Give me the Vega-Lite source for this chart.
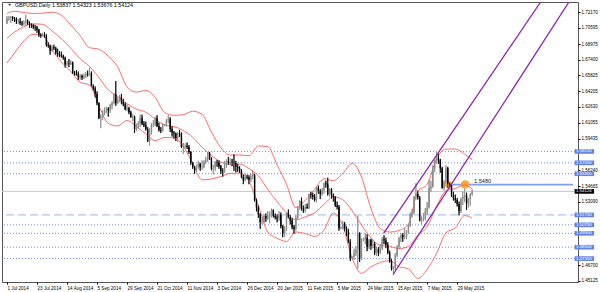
{
"$schema":"https://vega.github.io/schema/vega-lite/v6.json",
"width":576,"height":280,
"autosize":{"type":"none"},
"padding":{"left":2,"top":2,"right":22,"bottom":10},
"background":"white",
"config":{"view":{"stroke":"#555","strokeWidth":1},"axis":{"labelFont":"Liberation Sans","grid":false,"domain":false,"labelOverlap":false},"text":{"font":"Liberation Sans"}},
"resolve":{"axis":{"x":"independent","y":"independent"}},
"datasets":{
"bars":[
{"i":0,"o":1.7105,"h":1.718,"l":1.71,"c":1.7155},{"i":1,"o":1.7155,"h":1.718,"l":1.713,"c":1.716},{"i":2,"o":1.716,"h":1.718,"l":1.711,"c":1.717},{"i":3,"o":1.717,"h":1.7178,"l":1.713,"c":1.7155},{"i":4,"o":1.7155,"h":1.717,"l":1.712,"c":1.715},{"i":5,"o":1.715,"h":1.7165,"l":1.71,"c":1.7125},{"i":6,"o":1.7125,"h":1.715,"l":1.71,"c":1.7125},{"i":7,"o":1.7125,"h":1.716,"l":1.709,"c":1.711},{"i":8,"o":1.711,"h":1.713,"l":1.708,"c":1.7105},{"i":9,"o":1.7105,"h":1.7135,"l":1.7085,"c":1.711},
{"i":10,"o":1.711,"h":1.7192,"l":1.708,"c":1.713},{"i":11,"o":1.713,"h":1.7145,"l":1.709,"c":1.711},{"i":12,"o":1.711,"h":1.7125,"l":1.706,"c":1.709},{"i":13,"o":1.709,"h":1.7105,"l":1.706,"c":1.7085},{"i":14,"o":1.7085,"h":1.71,"l":1.705,"c":1.707},{"i":15,"o":1.707,"h":1.709,"l":1.703,"c":1.7065},{"i":16,"o":1.7065,"h":1.708,"l":1.701,"c":1.704},{"i":17,"o":1.704,"h":1.705,"l":1.697,"c":1.699},{"i":18,"o":1.699,"h":1.7005,"l":1.696,"c":1.698},{"i":19,"o":1.698,"h":1.701,"l":1.697,"c":1.6995},
{"i":20,"o":1.6995,"h":1.7015,"l":1.696,"c":1.6985},{"i":21,"o":1.6985,"h":1.6995,"l":1.687,"c":1.689},{"i":22,"o":1.689,"h":1.6915,"l":1.686,"c":1.688},{"i":23,"o":1.688,"h":1.689,"l":1.679,"c":1.683},{"i":24,"o":1.683,"h":1.6885,"l":1.682,"c":1.6865},{"i":25,"o":1.6865,"h":1.689,"l":1.6835,"c":1.6855},{"i":26,"o":1.6855,"h":1.687,"l":1.679,"c":1.681},{"i":27,"o":1.681,"h":1.685,"l":1.677,"c":1.6795},{"i":28,"o":1.6795,"h":1.6825,"l":1.6765,"c":1.6785},{"i":29,"o":1.6785,"h":1.682,"l":1.676,"c":1.6775},
{"i":30,"o":1.6775,"h":1.679,"l":1.674,"c":1.676},{"i":31,"o":1.676,"h":1.677,"l":1.666,"c":1.669},{"i":32,"o":1.669,"h":1.6725,"l":1.668,"c":1.67},{"i":33,"o":1.67,"h":1.6745,"l":1.6665,"c":1.6695},{"i":34,"o":1.6695,"h":1.6735,"l":1.6685,"c":1.6715},{"i":35,"o":1.6715,"h":1.672,"l":1.6595,"c":1.6605},{"i":36,"o":1.6605,"h":1.6625,"l":1.658,"c":1.66},{"i":37,"o":1.66,"h":1.6635,"l":1.658,"c":1.659},{"i":38,"o":1.659,"h":1.662,"l":1.6535,"c":1.6565},{"i":39,"o":1.6565,"h":1.6595,"l":1.654,"c":1.6575},
{"i":40,"o":1.6575,"h":1.659,"l":1.6535,"c":1.656},{"i":41,"o":1.656,"h":1.66,"l":1.6545,"c":1.658},{"i":42,"o":1.658,"h":1.6615,"l":1.6555,"c":1.6595},{"i":43,"o":1.6595,"h":1.663,"l":1.657,"c":1.659},{"i":44,"o":1.659,"h":1.666,"l":1.658,"c":1.66},{"i":45,"o":1.66,"h":1.662,"l":1.647,"c":1.6475},{"i":46,"o":1.6475,"h":1.649,"l":1.643,"c":1.645},{"i":47,"o":1.645,"h":1.647,"l":1.636,"c":1.6395},{"i":48,"o":1.6395,"h":1.642,"l":1.628,"c":1.63},{"i":49,"o":1.63,"h":1.631,"l":1.614,"c":1.6155},
{"i":50,"o":1.6155,"h":1.619,"l":1.605,"c":1.617},{"i":51,"o":1.617,"h":1.623,"l":1.613,"c":1.62},{"i":52,"o":1.62,"h":1.626,"l":1.618,"c":1.6235},{"i":53,"o":1.6235,"h":1.6265,"l":1.62,"c":1.6245},{"i":54,"o":1.6245,"h":1.626,"l":1.6165,"c":1.623},{"i":55,"o":1.623,"h":1.6295,"l":1.6205,"c":1.628},{"i":56,"o":1.628,"h":1.632,"l":1.624,"c":1.63},{"i":57,"o":1.63,"h":1.64,"l":1.629,"c":1.639},{"i":58,"o":1.639,"h":1.6525,"l":1.6275,"c":1.63},{"i":59,"o":1.63,"h":1.636,"l":1.629,"c":1.634},
{"i":60,"o":1.634,"h":1.6385,"l":1.631,"c":1.6365},{"i":61,"o":1.6365,"h":1.6395,"l":1.629,"c":1.6315},{"i":62,"o":1.6315,"h":1.6345,"l":1.627,"c":1.629},{"i":63,"o":1.629,"h":1.631,"l":1.623,"c":1.624},{"i":64,"o":1.624,"h":1.629,"l":1.622,"c":1.625},{"i":65,"o":1.625,"h":1.6265,"l":1.619,"c":1.621},{"i":66,"o":1.621,"h":1.6225,"l":1.6155,"c":1.616},{"i":67,"o":1.616,"h":1.619,"l":1.612,"c":1.6165},{"i":68,"o":1.6165,"h":1.6175,"l":1.6,"c":1.604},{"i":69,"o":1.604,"h":1.6095,"l":1.602,"c":1.608},
{"i":70,"o":1.608,"h":1.612,"l":1.6045,"c":1.61},{"i":71,"o":1.61,"h":1.6185,"l":1.606,"c":1.615},{"i":72,"o":1.615,"h":1.6185,"l":1.608,"c":1.6095},{"i":73,"o":1.6095,"h":1.612,"l":1.606,"c":1.608},{"i":74,"o":1.608,"h":1.6115,"l":1.6025,"c":1.604},{"i":75,"o":1.604,"h":1.606,"l":1.591,"c":1.592},{"i":76,"o":1.592,"h":1.605,"l":1.5875,"c":1.6005},{"i":77,"o":1.6005,"h":1.61,"l":1.5985,"c":1.608},{"i":78,"o":1.608,"h":1.613,"l":1.606,"c":1.6085},{"i":79,"o":1.6085,"h":1.6165,"l":1.607,"c":1.615},
{"i":80,"o":1.615,"h":1.618,"l":1.606,"c":1.607},{"i":81,"o":1.607,"h":1.6105,"l":1.6015,"c":1.603},{"i":82,"o":1.603,"h":1.606,"l":1.6,"c":1.6025},{"i":83,"o":1.6025,"h":1.6095,"l":1.6015,"c":1.608},{"i":84,"o":1.608,"h":1.609,"l":1.607,"c":1.608},{"i":85,"o":1.608,"h":1.6145,"l":1.6065,"c":1.613},{"i":86,"o":1.613,"h":1.618,"l":1.61,"c":1.614},{"i":87,"o":1.614,"h":1.616,"l":1.601,"c":1.604},{"i":88,"o":1.604,"h":1.607,"l":1.5965,"c":1.6005},{"i":89,"o":1.6005,"h":1.602,"l":1.5945,"c":1.5995},
{"i":90,"o":1.5995,"h":1.6005,"l":1.592,"c":1.595},{"i":91,"o":1.595,"h":1.601,"l":1.591,"c":1.6},{"i":92,"o":1.6,"h":1.603,"l":1.596,"c":1.5995},{"i":93,"o":1.5995,"h":1.6005,"l":1.585,"c":1.586},{"i":94,"o":1.586,"h":1.59,"l":1.579,"c":1.5865},{"i":95,"o":1.5865,"h":1.5895,"l":1.5845,"c":1.587},{"i":96,"o":1.587,"h":1.5905,"l":1.584,"c":1.586},{"i":97,"o":1.586,"h":1.588,"l":1.579,"c":1.581},{"i":98,"o":1.581,"h":1.582,"l":1.568,"c":1.57},{"i":99,"o":1.57,"h":1.571,"l":1.564,"c":1.5655},
{"i":100,"o":1.5655,"h":1.567,"l":1.559,"c":1.5625},{"i":101,"o":1.5625,"h":1.568,"l":1.561,"c":1.5665},{"i":102,"o":1.5665,"h":1.572,"l":1.564,"c":1.569},{"i":103,"o":1.569,"h":1.57,"l":1.562,"c":1.5655},{"i":104,"o":1.5655,"h":1.5725,"l":1.563,"c":1.5655},{"i":105,"o":1.5655,"h":1.5725,"l":1.5645,"c":1.571},{"i":106,"o":1.571,"h":1.576,"l":1.569,"c":1.573},{"i":107,"o":1.573,"h":1.581,"l":1.571,"c":1.5805},{"i":108,"o":1.5805,"h":1.581,"l":1.573,"c":1.5745},{"i":109,"o":1.5745,"h":1.5755,"l":1.5625,"c":1.564},
{"i":110,"o":1.564,"h":1.568,"l":1.559,"c":1.565},{"i":111,"o":1.565,"h":1.572,"l":1.562,"c":1.5705},{"i":112,"o":1.5705,"h":1.573,"l":1.566,"c":1.57},{"i":113,"o":1.57,"h":1.5725,"l":1.564,"c":1.5665},{"i":114,"o":1.5665,"h":1.568,"l":1.559,"c":1.562},{"i":115,"o":1.562,"h":1.5645,"l":1.556,"c":1.5615},{"i":116,"o":1.5615,"h":1.572,"l":1.56,"c":1.571},{"i":117,"o":1.571,"h":1.5735,"l":1.565,"c":1.5715},{"i":118,"o":1.5715,"h":1.576,"l":1.568,"c":1.57},{"i":119,"o":1.57,"h":1.5745,"l":1.5675,"c":1.571},
{"i":120,"o":1.571,"h":1.574,"l":1.5665,"c":1.5705},{"i":121,"o":1.5705,"h":1.5785,"l":1.562,"c":1.57},{"i":122,"o":1.57,"h":1.572,"l":1.5605,"c":1.566},{"i":123,"o":1.566,"h":1.569,"l":1.561,"c":1.5645},{"i":124,"o":1.5645,"h":1.5665,"l":1.56,"c":1.5625},{"i":125,"o":1.5625,"h":1.5635,"l":1.5545,"c":1.5555},{"i":126,"o":1.5555,"h":1.558,"l":1.5485,"c":1.5525},{"i":127,"o":1.5525,"h":1.559,"l":1.5515,"c":1.556},{"i":128,"o":1.556,"h":1.558,"l":1.5535,"c":1.5555},{"i":129,"o":1.5555,"h":1.5575,"l":1.5485,"c":1.553},
{"i":130,"o":1.553,"h":1.559,"l":1.5505,"c":1.5565},{"i":131,"o":1.5565,"h":1.562,"l":1.5535,"c":1.5575},{"i":132,"o":1.5575,"h":1.559,"l":1.531,"c":1.5325},{"i":133,"o":1.5325,"h":1.534,"l":1.521,"c":1.525},{"i":134,"o":1.525,"h":1.527,"l":1.5145,"c":1.518},{"i":135,"o":1.518,"h":1.5195,"l":1.5035,"c":1.5105},{"i":136,"o":1.5105,"h":1.516,"l":1.508,"c":1.511},{"i":137,"o":1.511,"h":1.518,"l":1.509,"c":1.5165},{"i":138,"o":1.5165,"h":1.519,"l":1.5105,"c":1.514},{"i":139,"o":1.514,"h":1.5215,"l":1.5125,"c":1.518},
{"i":140,"o":1.518,"h":1.521,"l":1.509,"c":1.5185},{"i":141,"o":1.5185,"h":1.524,"l":1.515,"c":1.5225},{"i":142,"o":1.5225,"h":1.523,"l":1.515,"c":1.5165},{"i":143,"o":1.5165,"h":1.519,"l":1.513,"c":1.515},{"i":144,"o":1.515,"h":1.518,"l":1.51,"c":1.514},{"i":145,"o":1.514,"h":1.5215,"l":1.5115,"c":1.518},{"i":146,"o":1.518,"h":1.52,"l":1.504,"c":1.506},{"i":147,"o":1.506,"h":1.5075,"l":1.495,"c":1.499},{"i":148,"o":1.499,"h":1.506,"l":1.4955,"c":1.503},{"i":149,"o":1.503,"h":1.52,"l":1.5015,"c":1.5195},
{"i":150,"o":1.5195,"h":1.523,"l":1.514,"c":1.515},{"i":151,"o":1.515,"h":1.5175,"l":1.508,"c":1.512},{"i":152,"o":1.512,"h":1.5145,"l":1.503,"c":1.505},{"i":153,"o":1.505,"h":1.5075,"l":1.4985,"c":1.5035},{"i":154,"o":1.5035,"h":1.517,"l":1.5015,"c":1.515},{"i":155,"o":1.515,"h":1.5265,"l":1.513,"c":1.524},{"i":156,"o":1.524,"h":1.5325,"l":1.5225,"c":1.5315},{"i":157,"o":1.5315,"h":1.535,"l":1.522,"c":1.524},{"i":158,"o":1.524,"h":1.527,"l":1.5195,"c":1.522},{"i":159,"o":1.522,"h":1.5285,"l":1.52,"c":1.5255},
{"i":160,"o":1.5255,"h":1.529,"l":1.5235,"c":1.5245},{"i":161,"o":1.5245,"h":1.539,"l":1.5235,"c":1.5385},{"i":162,"o":1.5385,"h":1.541,"l":1.534,"c":1.5375},{"i":163,"o":1.5375,"h":1.54,"l":1.533,"c":1.5355},{"i":164,"o":1.5355,"h":1.5385,"l":1.531,"c":1.5325},{"i":165,"o":1.5325,"h":1.546,"l":1.53,"c":1.545},{"i":166,"o":1.545,"h":1.547,"l":1.539,"c":1.5415},{"i":167,"o":1.5415,"h":1.5435,"l":1.5335,"c":1.5385},{"i":168,"o":1.5385,"h":1.5445,"l":1.537,"c":1.542},{"i":169,"o":1.542,"h":1.55,"l":1.539,"c":1.5495},
{"i":170,"o":1.5495,"h":1.552,"l":1.545,"c":1.5485},{"i":171,"o":1.5485,"h":1.555,"l":1.537,"c":1.5385},{"i":172,"o":1.5385,"h":1.5445,"l":1.536,"c":1.5435},{"i":173,"o":1.5435,"h":1.5445,"l":1.534,"c":1.5375},{"i":174,"o":1.5375,"h":1.539,"l":1.531,"c":1.5355},{"i":175,"o":1.5355,"h":1.5365,"l":1.5255,"c":1.527},{"i":176,"o":1.527,"h":1.531,"l":1.523,"c":1.5255},{"i":177,"o":1.5255,"h":1.5275,"l":1.5015,"c":1.504},{"i":178,"o":1.504,"h":1.506,"l":1.503,"c":1.505},{"i":179,"o":1.505,"h":1.5115,"l":1.503,"c":1.5085},
{"i":180,"o":1.5085,"h":1.5105,"l":1.501,"c":1.504},{"i":181,"o":1.504,"h":1.506,"l":1.496,"c":1.4995},{"i":182,"o":1.4995,"h":1.5035,"l":1.489,"c":1.4905},{"i":183,"o":1.4905,"h":1.493,"l":1.471,"c":1.474},{"i":184,"o":1.474,"h":1.476,"l":1.473,"c":1.475},{"i":185,"o":1.475,"h":1.4835,"l":1.472,"c":1.479},{"i":186,"o":1.479,"h":1.486,"l":1.476,"c":1.4825},{"i":187,"o":1.4825,"h":1.5165,"l":1.4635,"c":1.499},{"i":188,"o":1.499,"h":1.5,"l":1.47,"c":1.4735},{"i":189,"o":1.4735,"h":1.494,"l":1.472,"c":1.4925},
{"i":190,"o":1.4925,"h":1.4945,"l":1.491,"c":1.493},{"i":191,"o":1.493,"h":1.499,"l":1.488,"c":1.4945},{"i":192,"o":1.4945,"h":1.498,"l":1.481,"c":1.485},{"i":193,"o":1.485,"h":1.4935,"l":1.483,"c":1.4925},{"i":194,"o":1.4925,"h":1.4935,"l":1.4825,"c":1.4865},{"i":195,"o":1.4865,"h":1.4925,"l":1.484,"c":1.4885},{"i":196,"o":1.4885,"h":1.49,"l":1.477,"c":1.479},{"i":197,"o":1.479,"h":1.4855,"l":1.4765,"c":1.483},{"i":198,"o":1.483,"h":1.485,"l":1.476,"c":1.4795},{"i":199,"o":1.4795,"h":1.488,"l":1.478,"c":1.484},
{"i":200,"o":1.484,"h":1.495,"l":1.482,"c":1.493},{"i":201,"o":1.493,"h":1.497,"l":1.488,"c":1.492},{"i":202,"o":1.492,"h":1.4945,"l":1.484,"c":1.4875},{"i":203,"o":1.4875,"h":1.49,"l":1.478,"c":1.4795},{"i":204,"o":1.4795,"h":1.4815,"l":1.4695,"c":1.471},{"i":205,"o":1.471,"h":1.473,"l":1.4615,"c":1.463},{"i":206,"o":1.463,"h":1.466,"l":1.4565,"c":1.464},{"i":207,"o":1.464,"h":1.479,"l":1.462,"c":1.477},{"i":208,"o":1.477,"h":1.487,"l":1.475,"c":1.4855},{"i":209,"o":1.4855,"h":1.4955,"l":1.4835,"c":1.494},
{"i":210,"o":1.494,"h":1.499,"l":1.49,"c":1.497},{"i":211,"o":1.497,"h":1.499,"l":1.4905,"c":1.495},{"i":212,"o":1.495,"h":1.504,"l":1.493,"c":1.495},{"i":213,"o":1.495,"h":1.502,"l":1.493,"c":1.5005},{"i":214,"o":1.5005,"h":1.5085,"l":1.4985,"c":1.5065},{"i":215,"o":1.5065,"h":1.52,"l":1.5055,"c":1.5185},{"i":216,"o":1.5185,"h":1.5235,"l":1.515,"c":1.52},{"i":217,"o":1.52,"h":1.5365,"l":1.518,"c":1.5355},{"i":218,"o":1.5355,"h":1.5495,"l":1.533,"c":1.5385},{"i":219,"o":1.5385,"h":1.542,"l":1.533,"c":1.535},
{"i":220,"o":1.535,"h":1.5365,"l":1.511,"c":1.512},{"i":221,"o":1.512,"h":1.516,"l":1.508,"c":1.513},{"i":222,"o":1.513,"h":1.5195,"l":1.511,"c":1.514},{"i":223,"o":1.514,"h":1.5245,"l":1.512,"c":1.521},{"i":224,"o":1.521,"h":1.5305,"l":1.5175,"c":1.525},{"i":225,"o":1.525,"h":1.5525,"l":1.524,"c":1.5445},{"i":226,"o":1.5445,"h":1.552,"l":1.5405,"c":1.546},{"i":227,"o":1.546,"h":1.5675,"l":1.545,"c":1.564},{"i":228,"o":1.564,"h":1.573,"l":1.5605,"c":1.5715},{"i":229,"o":1.5715,"h":1.5815,"l":1.569,"c":1.5745},
{"i":230,"o":1.5745,"h":1.579,"l":1.569,"c":1.573},{"i":231,"o":1.573,"h":1.574,"l":1.56,"c":1.5645},{"i":232,"o":1.5645,"h":1.566,"l":1.544,"c":1.545},{"i":233,"o":1.545,"h":1.5525,"l":1.542,"c":1.551},{"i":234,"o":1.551,"h":1.5675,"l":1.549,"c":1.5645},{"i":235,"o":1.5645,"h":1.566,"l":1.545,"c":1.549},{"i":236,"o":1.549,"h":1.55,"l":1.5445,"c":1.5475},{"i":237,"o":1.5475,"h":1.548,"l":1.5355,"c":1.5375},{"i":238,"o":1.5375,"h":1.541,"l":1.532,"c":1.5345},{"i":239,"o":1.5345,"h":1.538,"l":1.5295,"c":1.5325},
{"i":240,"o":1.5325,"h":1.5345,"l":1.526,"c":1.5285},{"i":241,"o":1.5285,"h":1.531,"l":1.517,"c":1.5215},{"i":242,"o":1.5215,"h":1.535,"l":1.5195,"c":1.5335},{"i":243,"o":1.5335,"h":1.5415,"l":1.5275,"c":1.5355},{"i":244,"o":1.5355,"h":1.544,"l":1.5305,"c":1.537},{"i":245,"o":1.537,"h":1.54,"l":1.5225,"c":1.529},{"i":246,"o":1.529,"h":1.5345,"l":1.525,"c":1.533},{"i":247,"o":1.533,"h":1.5395,"l":1.527,"c":1.5385},{"i":248,"o":1.53837,"h":1.54323,"l":1.53676,"c":1.54124}
],
"bands":[
{"i":0,"u":1.7205,"m":1.6955,"b":1.6705},{"i":4,"u":1.7227,"m":1.7017,"b":1.6807},{"i":9,"u":1.7215,"m":1.7072,"b":1.6929},{"i":14,"u":1.7205,"m":1.71,"b":1.6995},{"i":19,"u":1.7208,"m":1.7096,"b":1.6984},{"i":24,"u":1.7218,"m":1.7029,"b":1.684},{"i":29,"u":1.7187,"m":1.6951,"b":1.6715},{"i":34,"u":1.7089,"m":1.6855,"b":1.6621},{"i":39,"u":1.6982,"m":1.6748,"b":1.6514},{"i":44,"u":1.6861,"m":1.6672,"b":1.6483},
{"i":49,"u":1.6845,"m":1.656,"b":1.6275},{"i":54,"u":1.6775,"m":1.6436,"b":1.6097},{"i":59,"u":1.6668,"m":1.637,"b":1.6072},{"i":64,"u":1.6465,"m":1.6296,"b":1.6127},{"i":69,"u":1.6413,"m":1.624,"b":1.6067},{"i":74,"u":1.6429,"m":1.621,"b":1.5991},{"i":79,"u":1.6358,"m":1.6141,"b":1.5924},{"i":84,"u":1.6209,"m":1.6082,"b":1.5955},{"i":89,"u":1.6179,"m":1.6065,"b":1.5951},{"i":94,"u":1.6185,"m":1.6025,"b":1.5865},
{"i":99,"u":1.622,"m":1.5958,"b":1.5696},{"i":104,"u":1.6188,"m":1.5858,"b":1.5528},{"i":109,"u":1.601,"m":1.5774,"b":1.5538},{"i":114,"u":1.5854,"m":1.5708,"b":1.5562},{"i":119,"u":1.5778,"m":1.5686,"b":1.5594},{"i":124,"u":1.578,"m":1.5688,"b":1.5596},{"i":129,"u":1.5772,"m":1.5643,"b":1.5514},{"i":134,"u":1.587,"m":1.557,"b":1.527},{"i":139,"u":1.5863,"m":1.5433,"b":1.5003},{"i":144,"u":1.5678,"m":1.5309,"b":1.494},
{"i":149,"u":1.5484,"m":1.5196,"b":1.4908},{"i":154,"u":1.5249,"m":1.5126,"b":1.5003},{"i":159,"u":1.5323,"m":1.5155,"b":1.4987},{"i":164,"u":1.5433,"m":1.5196,"b":1.4959},{"i":169,"u":1.5539,"m":1.5281,"b":1.5023},{"i":174,"u":1.5521,"m":1.5358,"b":1.5195},{"i":179,"u":1.5592,"m":1.5329,"b":1.5066},{"i":184,"u":1.5694,"m":1.5217,"b":1.474},{"i":189,"u":1.5557,"m":1.5072,"b":1.4587},{"i":194,"u":1.5241,"m":1.4946,"b":1.4651},
{"i":199,"u":1.504,"m":1.4868,"b":1.4696},{"i":204,"u":1.5003,"m":1.4858,"b":1.4713},{"i":209,"u":1.5019,"m":1.4836,"b":1.4653},{"i":214,"u":1.5082,"m":1.4857,"b":1.4632},{"i":219,"u":1.5413,"m":1.4974,"b":1.4535},{"i":224,"u":1.5484,"m":1.5055,"b":1.4626},{"i":229,"u":1.5741,"m":1.5264,"b":1.4787},{"i":234,"u":1.5838,"m":1.5416,"b":1.4994},{"i":239,"u":1.5839,"m":1.5442,"b":1.5045},{"i":244,"u":1.5788,"m":1.5478,"b":1.5168},{"i":248,"u":1.573,"m":1.5436,"b":1.5142}
],
"dotted":[{"p":1.5815},{"p":1.57},{"p":1.559},{"p":1.5075},{"p":1.499},{"p":1.485},{"p":1.4735}],
"dashed":[{"p":1.5175}],
"bid":[{"p":1.54124}],
"boxes":[{"p":1.5815,"k":"level"},{"p":1.57,"k":"level"},{"p":1.559,"k":"level"},{"p":1.5175,"k":"level"},{"p":1.5075,"k":"level"},{"p":1.499,"k":"level"},{"p":1.485,"k":"level"},{"p":1.4735,"k":"level"},{"p":1.54124,"k":"bid"}],
"trend":[{"a":235.35,"z":301.75,"p":1.548}],
"channel":[{"line":"A","i":200.78,"p":1.499},{"line":"A","i":284.5,"p":1.73208},{"line":"B","i":206.02,"p":1.458},{"line":"B","i":299.6,"p":1.73208}],
"ellipses":[{"i":235.35,"p":1.5482,"s":55},{"i":244.26,"p":1.5482,"s":75}]
},
"layer":[
{"data":{"name":"bars"},"mark":{"type":"rule","strokeWidth":0.8,"clip":true},
 "encoding":{"x":{"field":"i","type":"quantitative","title":null,"scale":{"domain":[0,301.75],"nice":false,"zero":false},
   "axis":{"orient":"bottom","values":[0,16,32,48,64,80,96,112,128,144,160,176,192,208,224,240],
    "labelExpr":"['1 Jul 2014','23 Jul 2014','14 Aug 2014','5 Sep 2014','29 Sep 2014','21 Oct 2014','11 Nov 2014','3 Dec 2014','26 Dec 2014','20 Jan 2015','11 Feb 2015','5 Mar 2015','24 Mar 2015','15 Apr 2015','7 May 2015','29 May 2015'][round(datum.value/16)]",
    "labelAlign":"left","labelBaseline":"top","labelFontSize":4.6,"labelColor":"#000","labelPadding":1,"tickSize":2,"tickColor":"#000","labelOverlap":false,"labelFlush":false,"labelBound":false,"title":null}},
  "y":{"field":"l","type":"quantitative","title":null,"scale":{"domain":[1.44992,1.73208],"nice":false,"zero":false},
   "axis":{"orient":"right","values":[1.45125,1.467,1.5309,1.54665,1.5624,1.59435,1.61055,1.6263,1.64205,1.65825,1.674,1.68975,1.70595,1.7217],
    "format":".5f","labelFontSize":4.5,"labelColor":"#000","labelPadding":1,"tickSize":2,"tickColor":"#000","labelOverlap":false,"labelFlush":false,"labelBound":false,"title":null}},
  "y2":{"field":"h"},
  "color":{"condition":{"test":"datum.c < datum.o","value":"#000000"},"value":"#8a8a8a"}}},
{"data":{"name":"dotted"},"mark":{"type":"rule","color":"#6f8ee6","strokeWidth":1,"strokeDash":[1,2]},
 "encoding":{"y":{"field":"p","type":"quantitative","axis":null,"scale":{"domain":[1.44992,1.73208],"nice":false,"zero":false}}}},
{"data":{"name":"dashed"},"mark":{"type":"rule","color":"#9fb3ee","strokeWidth":1,"strokeDash":[8,4]},
 "encoding":{"y":{"field":"p","type":"quantitative","axis":null,"scale":{"domain":[1.44992,1.73208],"nice":false,"zero":false}}}},
{"data":{"name":"bid"},"mark":{"type":"rule","color":"#c8c8c8","strokeWidth":1},
 "encoding":{"y":{"field":"p","type":"quantitative","axis":null,"scale":{"domain":[1.44992,1.73208],"nice":false,"zero":false}}}},
{"data":{"name":"trend"},"mark":{"type":"rule","color":"#7f9ff0","strokeWidth":1.6,"clip":true},
 "encoding":{"x":{"field":"a","type":"quantitative","axis":null,"scale":{"domain":[0,301.75],"nice":false,"zero":false}},"x2":{"field":"z"},
  "y":{"field":"p","type":"quantitative","axis":null,"scale":{"domain":[1.44992,1.73208],"nice":false,"zero":false}}}},
{"data":{"name":"ellipses"},"mark":{"type":"point","filled":true,"color":"#ffa332","opacity":0.95,"clip":true},
 "encoding":{"x":{"field":"i","type":"quantitative","axis":null,"scale":{"domain":[0,301.75],"nice":false,"zero":false}},
  "y":{"field":"p","type":"quantitative","axis":null,"scale":{"domain":[1.44992,1.73208],"nice":false,"zero":false}},
  "size":{"field":"s","type":"quantitative","scale":null}}},
{"data":{"name":"bands"},"mark":{"type":"line","color":"#ff5a5a","strokeWidth":0.9,"interpolate":"monotone","clip":true},
 "encoding":{"x":{"field":"i","type":"quantitative","axis":null,"scale":{"domain":[0,301.75],"nice":false,"zero":false}},
  "y":{"field":"u","type":"quantitative","axis":null,"scale":{"domain":[1.44992,1.73208],"nice":false,"zero":false}}}},
{"data":{"name":"bands"},"mark":{"type":"line","color":"#ff5a5a","strokeWidth":0.9,"interpolate":"monotone","clip":true},
 "encoding":{"x":{"field":"i","type":"quantitative","axis":null,"scale":{"domain":[0,301.75],"nice":false,"zero":false}},
  "y":{"field":"m","type":"quantitative","axis":null,"scale":{"domain":[1.44992,1.73208],"nice":false,"zero":false}}}},
{"data":{"name":"bands"},"mark":{"type":"line","color":"#ff5a5a","strokeWidth":0.9,"interpolate":"monotone","clip":true},
 "encoding":{"x":{"field":"i","type":"quantitative","axis":null,"scale":{"domain":[0,301.75],"nice":false,"zero":false}},
  "y":{"field":"b","type":"quantitative","axis":null,"scale":{"domain":[1.44992,1.73208],"nice":false,"zero":false}}}},
{"data":{"name":"bars"},"mark":{"type":"rule","strokeWidth":0.8,"clip":true},
 "encoding":{"x":{"field":"i","type":"quantitative","axis":null,"scale":{"domain":[0,301.75],"nice":false,"zero":false}},
  "y":{"field":"l","type":"quantitative","axis":null,"scale":{"domain":[1.44992,1.73208],"nice":false,"zero":false}},
  "y2":{"field":"h"},
  "color":{"condition":{"test":"datum.c < datum.o","value":"#000000"},"value":"#8a8a8a"}}},
{"data":{"name":"bars"},"mark":{"type":"bar","width":1.4,"clip":true},
 "encoding":{"x":{"field":"i","type":"quantitative","axis":null,"scale":{"domain":[0,301.75],"nice":false,"zero":false}},
  "y":{"field":"o","type":"quantitative","axis":null,"scale":{"domain":[1.44992,1.73208],"nice":false,"zero":false}},
  "y2":{"field":"c"},
  "color":{"condition":{"test":"datum.c < datum.o","value":"#000000"},"value":"#8a8a8a"}}},
{"data":{"name":"channel"},"mark":{"type":"line","color":"#8e24aa","strokeWidth":1.3,"clip":true},
 "encoding":{"x":{"field":"i","type":"quantitative","axis":null,"scale":{"domain":[0,301.75],"nice":false,"zero":false}},
  "y":{"field":"p","type":"quantitative","axis":null,"scale":{"domain":[1.44992,1.73208],"nice":false,"zero":false}},
  "detail":{"field":"line"}}},
{"data":{"values":[{"t":"1.5480"}]},"mark":{"type":"text","fontSize":5.6,"color":"#222","align":"left","baseline":"middle"},
 "encoding":{"x":{"datum":248.97,"type":"quantitative","axis":null,"scale":{"domain":[0,301.75],"nice":false,"zero":false}},
  "y":{"datum":1.5512,"type":"quantitative","axis":null,"scale":{"domain":[1.44992,1.73208],"nice":false,"zero":false}},
  "text":{"field":"t"}}},
{"data":{"values":[{"t":"GBPUSD,Daily  1.53837 1.54323 1.53676 1.54124"}]},"mark":{"type":"text","fontSize":5.3,"color":"#000","align":"left","baseline":"middle"},
 "encoding":{"x":{"datum":4.2,"type":"quantitative","axis":null,"scale":{"domain":[0,301.75],"nice":false,"zero":false}},
  "y":{"datum":1.7289,"type":"quantitative","axis":null,"scale":{"domain":[1.44992,1.73208],"nice":false,"zero":false}},
  "text":{"field":"t"}}},
{"data":{"values":[{"t":"v"}]},"mark":{"type":"point","shape":"triangle-down","filled":true,"color":"#000","size":9},
 "encoding":{"x":{"datum":1.4,"type":"quantitative","axis":null,"scale":{"domain":[0,301.75],"nice":false,"zero":false}},
  "y":{"datum":1.7291,"type":"quantitative","axis":null,"scale":{"domain":[1.44992,1.73208],"nice":false,"zero":false}}}},
{"data":{"name":"boxes"},"mark":{"type":"point","shape":"M-1,-0.24H1V0.24H-1Z","filled":true,"opacity":1,"size":380,"clip":false},
 "encoding":{"x":{"datum":307.8,"type":"quantitative","axis":null,"scale":{"domain":[0,301.75],"nice":false,"zero":false}},
  "y":{"field":"p","type":"quantitative","axis":null,"scale":{"domain":[1.44992,1.73208],"nice":false,"zero":false}},
  "color":{"condition":{"test":"datum.k == 'bid'","value":"#000000"},"value":"#6485e6"}}},
{"data":{"name":"boxes"},"mark":{"type":"text","fontSize":4.4,"color":"#ffffff","align":"left","baseline":"middle","clip":false},
 "encoding":{"x":{"datum":303.3,"type":"quantitative","axis":null,"scale":{"domain":[0,301.75],"nice":false,"zero":false}},
  "y":{"field":"p","type":"quantitative","axis":null,"scale":{"domain":[1.44992,1.73208],"nice":false,"zero":false}},
  "text":{"field":"p","type":"quantitative","format":".5f"}}}
]
}
